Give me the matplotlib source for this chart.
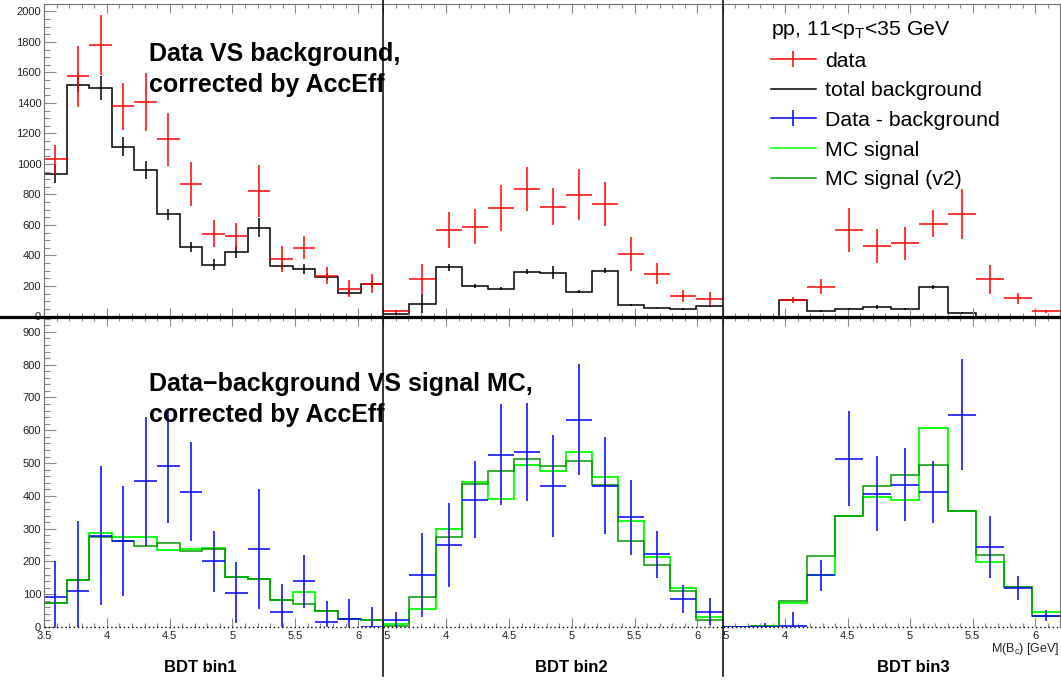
import numpy as np
import matplotlib
matplotlib.use("Agg")
import matplotlib.pyplot as plt
from matplotlib.lines import Line2D
from matplotlib.ticker import MultipleLocator, FuncFormatter
from matplotlib.transforms import Bbox, TransformedBbox

plt.rcParams['font.family'] = ['Liberation Sans', 'DejaVu Sans']
plt.rcParams['mathtext.fontset'] = 'custom'
plt.rcParams['mathtext.rm'] = 'Liberation Sans'
plt.rcParams['mathtext.it'] = 'Liberation Sans:italic'

XMIN, XMAX = 3.5, 6.2

# BDT bin1 (15 mass bins)
data1 = [1030, 1575, 1782, 1378, 1407, 1162, 870, 543, 530, 822, 377, 451, 268, 183, 214]
data1_err = [96, 200, 196, 155, 190, 172, 146, 87, 85, 171, 82, 76, 57, 54, 63]
bkg1 = [936, 1520, 1496, 1114, 960, 670, 456, 340, 423, 582, 331, 310, 257, 157, 214]
bkg1_err = [60, 50, 78, 61, 57, 38, 34, 38, 39, 62, 20, 32, 20, 15, 20]
sub1 = [91, 111, 279, 262, 444, 490, 413, 200, 105, 238, 46, 139, 16, 24, 0]
sub1_err = [109, 211, 213, 167, 198, 172, 152, 93, 94, 183, 85, 82, 64, 61, 62]
mc1 = [72, 144, 286, 273, 274, 235, 237, 241, 154, 146, 81, 107, 49, 24, 21]
mc1_v2 = [72, 144, 273, 261, 248, 257, 231, 239, 151, 146, 81, 69, 49, 23, 21]

# BDT bin2 (13 mass bins)
data2 = [33, 244, 567, 589, 709, 833, 720, 798, 737, 410, 281, 135, 113]
data2_err = [10, 100, 120, 116, 150, 144, 122, 166, 142, 112, 71, 41, 46]
bkg2 = [17, 83, 323, 200, 181, 294, 288, 161, 301, 76, 59, 48, 70]
bkg2_err = [5, 63, 22, 10, 10, 16, 45, 10, 16, 5, 5, 6, 7]
sub2 = [21, 159, 249, 388, 526, 533, 430, 632, 431, 335, 222, 86, 47]
sub2_err = [25, 128, 128, 117, 154, 149, 157, 169, 147, 114, 72, 43, 42]
mc2 = [8, 55, 300, 442, 390, 495, 477, 534, 456, 322, 213, 120, 32]
mc2_v2 = [4, 90, 276, 436, 475, 513, 490, 506, 432, 261, 190, 110, 21]

# BDT bin3 (12 mass bins)
data3 = [0, 0, 109, 196, 567, 465, 480, 608, 672, 244, 120, 33]
data3_err = [0, 0, 19, 48, 142, 111, 109, 90, 167, 96, 35, 11]
bkg3 = [0, 0, 109, 37, 50, 61, 48, 196, 22, 0, 0, 0]
bkg3_err = [0, 0, 5, 5, 5, 12, 5, 13, 5, 0, 0, 0]
sub3 = [0, 1, 2, 158, 513, 407, 434, 412, 648, 244, 120, 35]
sub3_err = [0, 10, 45, 47, 145, 114, 112, 94, 169, 94, 37, 17]
mc3 = [0, 4, 72, 159, 339, 396, 388, 608, 355, 198, 121, 45]
mc3_v2 = [0, 4, 80, 218, 339, 429, 465, 495, 355, 220, 121, 34]

bins = [
    dict(data=data1, data_err=data1_err, bkg=bkg1, bkg_err=bkg1_err, sub=sub1, sub_err=sub1_err, mc=mc1, mc2=mc1_v2),
    dict(data=data2, data_err=data2_err, bkg=bkg2, bkg_err=bkg2_err, sub=sub2, sub_err=sub2_err, mc=mc2, mc2=mc2_v2),
    dict(data=data3, data_err=data3_err, bkg=bkg3, bkg_err=bkg3_err, sub=sub3, sub_err=sub3_err, mc=mc3, mc2=mc3_v2),
]
bdt_labels = ["BDT bin1", "BDT bin2", "BDT bin3"]

RED = '#ff0000'
BLUE = '#0000ff'
LGREEN = '#00ff00'
DGREEN = '#009900'
TICKC = '#8a8a8a'
LW = 1.1

W, H = 1061.0, 682.0
xpix = [44, 383.3, 722.6, 1060]
fig = plt.figure(figsize=(W / 100, H / 100), dpi=100)

top_axes, bot_axes = [], []
for i in range(3):
    x0 = xpix[i] / W
    w = (xpix[i + 1] - xpix[i]) / W
    at = fig.add_axes([x0, 1 - 316.5 / H, w, 312.5 / H])
    ab = fig.add_axes([x0, 1 - 627 / H, w, 310.5 / H])
    top_axes.append(at)
    bot_axes.append(ab)

for i, (at, ab) in enumerate(zip(top_axes, bot_axes)):
    b = bins[i]
    n = len(b['data'])
    edges = np.linspace(XMIN, XMAX, n + 1)
    cent = 0.5 * (edges[1:] + edges[:-1])
    half = 0.5 * (edges[1] - edges[0])

    # top: data vs background
    at.stairs(b['bkg'], edges, baseline=None, color='k', lw=LW)
    at.errorbar(cent, b['bkg'], yerr=b['bkg_err'], fmt='none', ecolor='k', elinewidth=LW, capsize=0)
    at.errorbar(cent, b['data'], xerr=half, yerr=b['data_err'], fmt='none', ecolor=RED, elinewidth=LW, capsize=0)
    at.set_ylim(0, 2049)

    # bottom: data - background vs MC
    ab.errorbar(cent, b['sub'], xerr=half, yerr=b['sub_err'], fmt='none', ecolor=BLUE, elinewidth=LW, capsize=0)
    ab.stairs(b['mc'], edges, baseline=None, color=LGREEN, lw=LW + 0.2)
    ab.stairs(b['mc2'], edges, baseline=None, color=DGREEN, lw=LW)
    ab.axhline(0, color='k', ls=(0, (1, 2)), lw=1.0, clip_on=False, zorder=5)
    ab.set_ylim(0, 947)

    for ax in (at, ab):
        ax.set_xlim(XMIN, XMAX)
        ax.xaxis.set_major_locator(MultipleLocator(0.5))
        ax.xaxis.set_minor_locator(MultipleLocator(0.1))
        ax.tick_params(axis='x', which='both', direction='in', top=True, bottom=True, color=TICKC, width=0.8)
        ax.tick_params(axis='x', which='major', length=6.5)
        ax.tick_params(axis='x', which='minor', length=3.2)
        for s in ax.spines.values():
            s.set_color('#707070')
            s.set_linewidth(0.8)
        ax.spines['bottom'].set_visible(False)
        if i > 0:
            ax.spines['left'].set_visible(False)
            ax.tick_params(axis='y', which='both', left=False, labelleft=False)
        else:
            ax.tick_params(axis='y', which='both', direction='in', color=TICKC, width=0.8, labelsize=8,
                           labelcolor='#222222', pad=2)
            ax.tick_params(axis='y', which='major', length=8.5)
            ax.tick_params(axis='y', which='minor', length=4.5)
        if i < 2:
            ax.spines['right'].set_visible(False)

    at.tick_params(axis='x', labelbottom=False)
    ab.tick_params(axis='x', labelsize=8, labelcolor='#222222', pad=3)
    ab.xaxis.set_major_formatter(FuncFormatter(lambda v, p: f'{v:g}'))
    if i == 0:
        at.yaxis.set_major_locator(MultipleLocator(200))
        at.yaxis.set_minor_locator(MultipleLocator(50))
        ab.yaxis.set_major_locator(MultipleLocator(100))
        ab.yaxis.set_minor_locator(MultipleLocator(20))

    fig.text([200, 571, 913][i] / W, 1 - 668 / H, bdt_labels[i], fontsize=12, weight='bold',
             ha='center', va='center')

# pad borders
fig.add_artist(Line2D([0, 1], [1 - 316.5 / H] * 2, color='k', lw=2.3, transform=fig.transFigure))
for xp in xpix[1:3]:
    fig.add_artist(Line2D([xp / W] * 2, [1, 1 - 676 / H], color='k', lw=1.1, transform=fig.transFigure))

# captions
fig.text(149 / W, 1 - 61 / H, "Data VS background,", fontsize=18, weight='bold', va='baseline')
fig.text(149 / W, 1 - 92 / H, "corrected by AccEff", fontsize=18, weight='bold', va='baseline')
fig.text(149 / W, 1 - 391 / H, "Data\u2212background VS signal MC,", fontsize=18, weight='bold', va='baseline')
fig.text(149 / W, 1 - 422 / H, "corrected by AccEff", fontsize=18, weight='bold', va='baseline')
fig.text(1060 / W, 1 - 652 / H, "M(B$_{\\rm c}$) [GeV]", fontsize=9, ha='right', va='baseline', color='#222222')

# legend
h_data = (Line2D([], [], color=RED, lw=LW), Line2D([], [], color=RED, marker='|', ls='none', ms=11, mew=LW))
h_bkg = Line2D([], [], color='k', lw=LW)
h_sub = (Line2D([], [], color=BLUE, lw=LW), Line2D([], [], color=BLUE, marker='|', ls='none', ms=11, mew=LW))
h_mc = Line2D([], [], color=LGREEN, lw=LW)
h_mc2 = Line2D([], [], color=DGREEN, lw=LW)
leg = top_axes[2].legend([h_data, h_bkg, h_sub, h_mc, h_mc2],
                         ["data", "total background", "Data - background", "MC signal", "MC signal (v2)"],
                         title="pp, 11<p$_{\\rm T}$<35 GeV", title_fontsize=15.3, fontsize=15.3,
                         loc='upper left', bbox_to_anchor=(771 / W, 1 - 19 / H), bbox_transform=fig.transFigure,
                         frameon=False, borderpad=0, borderaxespad=0, handlelength=2.1, handletextpad=0.45,
                         labelspacing=0.5, alignment='left')

# hide the part of the 3.5 label that falls outside its own pad
fig.canvas.draw()
for i in (1, 2):
    clip = TransformedBbox(Bbox.from_extents(xpix[i] / W, 0, 1, 1), fig.transFigure)
    for lab in bot_axes[i].get_xticklabels():
        lab.set_clip_box(clip)
        lab.set_clip_on(True)

fig.savefig("out.png", dpi=100)
